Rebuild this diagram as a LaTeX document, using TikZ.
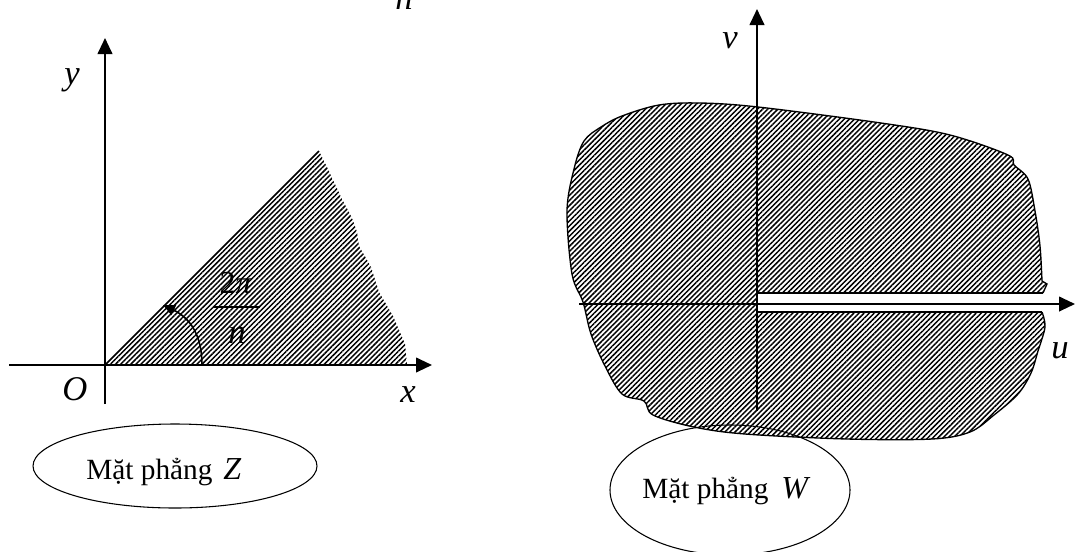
\documentclass[tikz,border=0pt]{standalone}
\usepackage{fontspec}
\setmainfont{Liberation Serif}
\usetikzlibrary{arrows.meta,patterns.meta,shapes.geometric}
\tikzset{
  axis/.style={line width=1.5pt,-{Triangle[length=12pt,width=11pt]}},
  hatch/.style={pattern={Lines[angle=45,distance=2.7pt,line width=1.1pt]}},
  edge/.style={line width=1pt},
  lab/.style={font=\fontsize{26}{30}\selectfont\itshape, inner sep=0pt},
  num/.style={font=\fontsize{24}{28}\selectfont, inner sep=0pt},
  txt/.style={font=\fontsize{22}{26}\selectfont, inner sep=0pt},
  oval/.style={draw, ellipse, line width=0.8pt, inner sep=0pt},
}
\begin{document}
\begin{tikzpicture}[x=0.75pt,y=-0.75pt]
\clip (0,0) rectangle (1075,551);

% ---------- plane Z ----------
\coordinate (O) at (105,365);
\coordinate (ray) at (319,151);
\fill[hatch] (O) -- (ray) -- (326,165) -- (341,197) -- (352,218) -- (357,232)
  -- (359,246) -- (371,267) -- (379,292) -- (393,316) -- (405,344) -- (407,364) -- cycle;
\draw[line width=1.2pt] (O) -- (ray);

\coordinate (xl) at (9,365);
\coordinate (xr) at (432,365);
\coordinate (yb) at (105,404);
\coordinate (yt) at (105,38);
\draw[axis] (xl) -- (xr);
\draw[axis] (yb) -- (yt);

\coordinate (arcs) at (202,365);
\coordinate (arce) at (163,305);
\draw[line width=1.2pt,-{Triangle[length=9pt,width=8pt]}] (arcs) .. controls (202,335) and (190,318) .. (arce);

\node[lab, anchor=base] (ylab) at (72,84) {y};
\node[lab, anchor=base] (olab) at (75,400) {O};
\node[lab, anchor=base] (xlab) at (408,402) {x};

\node[num, anchor=base] (fnum) at (236,293) {2\textit{π}};
\node[lab, anchor=base] (fden) at (237,343) {n};
\coordinate (barl) at (213,307);
\coordinate (barr) at (260,307);
\draw[line width=0.9pt] (barl) -- (barr);

\node[lab, anchor=base] (topn) at (404,9) {n};

\node[oval, minimum width=213pt, minimum height=63pt] (ez) at (175,466) {};
\node[txt, anchor=base west] (tz) at (86,479) {Mặt phẳng};
\node[lab, font=\fontsize{24}{28}\selectfont\itshape, anchor=base west] (zz) at (223,479) {Z};

% ---------- plane W ----------
\fill[hatch] (1043,293) -- (1047,284) -- (1042,281) -- plot[smooth, tension=0.55] coordinates {
 (1042,281) (1040,246) (1035,211) (1028,179) (1014,165) (1008,155) (950,135) (881,123)
 (758,107) (700,103) (659,105) (622,116) (601,127) (584,141) (574,169) (567,211)
 (572,274) (583,302) (591,334) (605,366) (622,394) (644,401) (653,415) (694,427)
 (745,434) (847,439) (932,439) (970,432) (994,415) (1018,394) (1031,373) (1038,351)
 (1045,327) (1042,312)} -- cycle;
\fill[white] (757,293) rectangle (1044,312);
\draw[edge] (1043,293) -- (1047,284) -- (1042,281) -- plot[smooth, tension=0.55] coordinates {
 (1042,281) (1040,246) (1035,211) (1028,179) (1014,165) (1008,155) (950,135) (881,123)
 (758,107) (700,103) (659,105) (622,116) (601,127) (584,141) (574,169) (567,211)
 (572,274) (583,302) (591,334) (605,366) (622,394) (644,401) (653,415) (694,427)
 (745,434) (847,439) (932,439) (970,432) (994,415) (1018,394) (1031,373) (1038,351)
 (1045,327) (1042,312)};

\coordinate (slt1) at (757,293);
\coordinate (slt2) at (1043,293);
\coordinate (slb1) at (757,312);
\coordinate (slb2) at (1042,312);
\draw[edge] (slt1) -- (slt2);
\draw[edge] (slb1) -- (slb2);

\coordinate (ul) at (579,304);
\coordinate (ur) at (1075,304);
\coordinate (vb) at (757,411);
\coordinate (vt) at (757,9);
\draw[axis] (ul) -- (ur);
\draw[axis] (vb) -- (vt);

\node[lab, anchor=base] (vlab) at (730,48) {v};
\node[lab, anchor=base] (ulab) at (1060,358) {u};

\node[oval, minimum width=180pt, minimum height=97.5pt] (ew) at (730,490) {};
\node[txt, anchor=base west] (tw) at (642,498) {Mặt phẳng};
\node[lab, font=\fontsize{24}{28}\selectfont\itshape, anchor=base west] (ww) at (781,498) {W};
\end{tikzpicture}
\end{document}
